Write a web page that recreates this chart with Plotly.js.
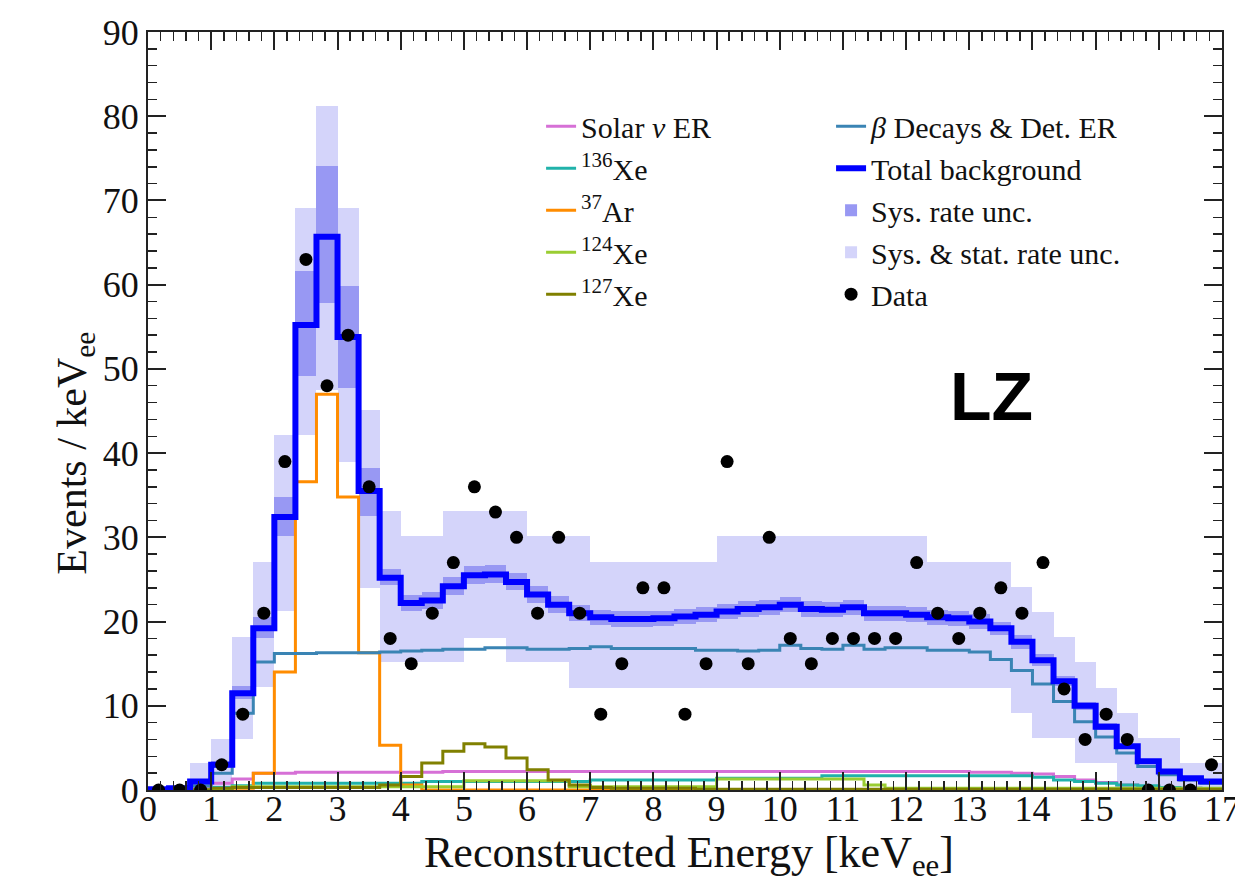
<!DOCTYPE html>
<html><head><meta charset="utf-8">
<script src="https://cdn.plot.ly/plotly-3.0.1.min.js"></script>
<style>html,body{margin:0;padding:0;background:#fff}</style>
</head><body><div id="chart" style="width:1235px;height:888px"></div>
<script>
// 51 bins of equal width spanning 0..17 keV_ee
const eMin = 0, eMax = 17, nBins = 51;

const dataPts = [0,0,0,3,9,21,39,63,48,54,36,18,15,21,27,36,33,30,21,30,21,9,15,24,24,9,15,39,15,30,18,15,18,18,18,18,27,21,18,21,24,21,27,12,6,9,6,0,0,0,3];

const totalBkg = [0.1,0.2,1.0,3.0,11.5,19.2,32.4,55.2,65.7,53.8,35.5,25.2,22.2,22.5,24.2,25.5,25.6,24.7,23.2,22.0,21.0,20.5,20.3,20.3,20.4,20.6,20.8,21.2,21.5,21.7,22.0,21.5,21.4,21.7,21.0,21.0,20.8,20.5,20.4,20.0,19.2,17.6,15.4,12.9,10.0,7.5,5.2,3.4,2.2,1.4,1.0];

const betaDet = [0,0,0.5,2.0,9.1,15.2,16.2,16.2,16.3,16.3,16.3,16.4,16.5,16.6,16.7,16.7,16.9,16.9,16.7,16.7,16.8,17.0,16.8,16.8,16.8,16.8,16.6,16.6,16.5,16.6,17.2,16.8,16.7,17.2,16.7,16.9,16.9,16.6,16.6,16.4,15.5,14.2,12.6,10.5,8.1,6.3,4.4,2.8,1.8,1.2,0.8];

const ar37 = [0,0,0,0,0.2,2.0,14.0,36.6,47.0,34.8,16.3,5.3,0.6,0,0,0,0,0,0,0,0,0,0,0,0,0,0,0,0,0,0,0,0,0,0,0,0,0,0,0,0,0,0,0,0,0,0,0,0,0,0];

const xe127 = [0,0,0,0.2,0.3,0.3,0.3,0.3,0.3,0.3,0.3,0.6,1.6,3.2,4.6,5.5,5.1,3.8,2.4,1.2,0.6,0.3,0.2,0.2,0.2,0.2,0.1,0.1,0.1,0.1,0.1,0.1,0.1,0.1,0.1,0.1,0.1,0.1,0.1,0.1,0.1,0.1,0.1,0.1,0.1,0.1,0.1,0.1,0.1,0.1,0.1];

const solarNu = [0,0,0.3,0.8,1.3,2.0,2.0,2.1,2.1,2.1,2.1,2.1,2.1,2.1,2.2,2.2,2.2,2.2,2.2,2.2,2.2,2.2,2.2,2.2,2.2,2.2,2.2,2.2,2.2,2.2,2.2,2.2,2.2,2.2,2.2,2.2,2.2,2.2,2.2,2.1,2.1,2.0,1.9,1.6,1.2,0.9,0.6,0.4,0.3,0.2,0.1];

const xe136 = [0.1,0.1,0.1,0.3,0.5,0.8,0.8,0.8,0.8,0.8,0.8,0.8,0.8,1.0,1.0,1.0,1.0,1.0,1.0,1.0,1.0,1.2,1.2,1.2,1.2,1.2,1.2,1.4,1.4,1.4,1.4,1.4,1.7,1.7,1.7,1.7,1.7,1.7,1.7,1.7,1.7,1.7,1.5,1.2,1.0,0.8,0.6,0.5,0.3,0.2,0.1];

const xe124 = [0,0,0,0,0.4,0.4,0.4,0.4,0.4,0.4,0.4,0.4,0.4,0.4,0.4,1.1,1.1,1.1,1.1,1.1,0.4,0.4,0.4,0.4,0.4,0.4,0.4,1.3,1.3,1.3,1.3,1.3,1.3,1.3,0.6,0.2,0.2,0.2,0.2,0.2,0.2,0.2,0.2,0.2,0.2,0.2,0.2,0.2,0.2,0.2,0.2];

const sysLo = [0,0,0.8,2.6,10.8,18.0,30.1,49.1,57.8,47.7,32.5,24.3,21.3,21.5,23.2,24.5,24.6,23.7,22.2,21.0,20.1,19.6,19.4,19.4,19.5,19.7,19.9,20.3,20.6,20.8,21.1,20.6,20.5,20.8,20.1,20.1,19.9,19.6,19.5,19.1,18.4,16.8,14.7,12.3,9.5,7.1,4.9,3.2,2.1,1.3,0.9];
const sysHi = [0,0,1.2,3.4,12.3,20.5,34.8,61.6,74.1,59.8,38.2,26.3,23.2,23.5,25.3,26.6,26.7,25.8,24.2,23.0,22.0,21.4,21.2,21.2,21.3,21.5,21.7,22.1,22.4,22.6,22.9,22.4,22.3,22.6,21.9,21.9,21.7,21.4,21.3,20.9,20.0,18.4,16.1,13.5,10.5,7.9,5.5,3.6,2.3,1.5,1.1];

const statLo = [0,0,0,0,6.1,12.2,21.2,42.2,47.5,39.0,24.0,15.2,15.2,15.2,15.2,18.1,18.1,15.2,15.2,15.2,12.1,12.1,12.1,12.1,12.1,12.1,12.1,12.1,12.1,12.1,12.1,12.1,12.1,12.1,12.1,12.1,12.1,12.1,12.1,12.1,12.1,9.1,6.2,6.2,3.2,3.2,0,0,0,0,0];
const statHi = [0,0,3.2,6.1,18.2,27.1,42.2,69.1,81.2,69.1,45.1,33.1,30.1,30.1,33.1,33.1,33.1,33.1,30.1,30.1,30.1,27.1,27.1,27.1,27.1,27.1,27.1,30.1,30.1,30.1,30.1,30.1,30.1,30.1,30.1,30.1,30.1,27.1,27.1,27.1,27.1,24.1,21.1,18.2,15.2,12.1,9.1,6.2,6.2,3.2,3.2];

const xTicks = [0,1,2,3,4,5,6,7,8,9,10,11,12,13,14,15,16,17];
const yTicks = [0,10,20,30,40,50,60,70,80,90];

// bin geometry
const w = (eMax - eMin) / nBins;
const centers = [], edges = [];
for (let i = 0; i <= nBins; i++) edges.push(eMin + i * w);
for (let i = 0; i < nBins; i++) centers.push(eMin + (i + 0.5) * w);

function step(vals) {
  return { x: edges.slice(), y: vals.concat([vals[vals.length - 1]]) };
}
function diff(a, b) { return a.map((v, i) => v - b[i]); }

const serif = 'Liberation Serif, Times New Roman, serif';
const traces = [];

traces.push({
  type: 'bar', x: centers, base: statLo, y: diff(statHi, statLo), width: w,
  marker: { color: 'rgb(212,212,250)', line: { width: 0 } },
  name: 'Sys. &amp; stat. rate unc.', legend: 'legend2', legendrank: 4, hoverinfo: 'skip'
});
traces.push({
  type: 'bar', x: centers, base: sysLo, y: diff(sysHi, sysLo), width: w,
  marker: { color: 'rgb(152,152,243)', line: { width: 0 } },
  name: 'Sys. rate unc.', legend: 'legend2', legendrank: 3, hoverinfo: 'skip'
});

const comps = [
  { v: solarNu, name: 'Solar <i>ν</i> ER', color: '#d670d6', r: 1 },
  { v: xe136, name: '<sup>136</sup>Xe', color: '#20b2aa', r: 2 },
  { v: ar37, name: '<sup>37</sup>Ar', color: '#ff8c00', r: 3 },
  { v: xe124, name: '<sup>124</sup>Xe', color: '#9acd32', r: 4 },
  { v: xe127, name: '<sup>127</sup>Xe', color: '#808000', r: 5 }
];
comps.forEach(c => {
  const s = step(c.v);
  traces.push({
    type: 'scatter', mode: 'lines', x: s.x, y: s.y, line: { shape: 'hv', color: c.color, width: 3 },
    name: c.name, legend: 'legend', legendrank: c.r
  });
});

const sb = step(betaDet);
traces.push({
  type: 'scatter', mode: 'lines', x: sb.x, y: sb.y, line: { shape: 'hv', color: '#3a84b4', width: 3 },
  name: '<i>β</i> Decays &amp; Det. ER', legend: 'legend2', legendrank: 1
});
const st = step(totalBkg);
traces.push({
  type: 'scatter', mode: 'lines', x: st.x, y: st.y, line: { shape: 'hv', color: '#0000ff', width: 6 },
  name: 'Total background', legend: 'legend2', legendrank: 2
});
traces.push({
  type: 'scatter', mode: 'markers', x: centers, y: dataPts,
  marker: { color: '#000', size: 13 },
  name: 'Data', legend: 'legend2', legendrank: 5
});

const axisCommon = {
  showline: true, linecolor: '#222', linewidth: 2, mirror: 'allticks',
  ticks: 'inside', ticklen: 18, tickwidth: 2, tickcolor: '#222',
  showgrid: false, zeroline: false, ticklabeloverflow: 'allow',
  tickfont: { family: serif, size: 36, color: '#111' }
};

const layout = {
  width: 1235, height: 888,
  margin: { l: 148, r: 13, t: 32, b: 98 },
  paper_bgcolor: '#fff', plot_bgcolor: '#fff',
  barmode: 'overlay', bargap: 0,
  xaxis: Object.assign({}, axisCommon, {
    range: [eMin, eMax], tickvals: xTicks, ticktext: xTicks.map(String),
    ticklabelstandoff: -14,
    minor: { dtick: 0.2, ticks: 'inside', ticklen: 9, tickwidth: 1.5, tickcolor: '#222' },
    title: { text: '' }
  }),
  yaxis: Object.assign({}, axisCommon, {
    range: [0, 90], tickvals: yTicks, ticktext: yTicks.map(String),
    minor: { dtick: 2, ticks: 'inside', ticklen: 9, tickwidth: 1.5, tickcolor: '#222' },
    title: { text: '' }
  }),
  legend: {
    x: 0.366, y: 0.91, xanchor: 'left', yanchor: 'top', bgcolor: 'rgba(0,0,0,0)',
    font: { family: serif, size: 30, color: '#111' }, traceorder: 'normal', tracegroupgap: 0
  },
  legend2: {
    x: 0.636, y: 0.91, xanchor: 'left', yanchor: 'top', bgcolor: 'rgba(0,0,0,0)',
    font: { family: serif, size: 30, color: '#111' }, traceorder: 'normal', tracegroupgap: 0
  },
  annotations: [{
    xref: 'paper', yref: 'paper', x: 0.785, y: 0.52, xanchor: 'center', yanchor: 'middle',
    text: '<b>LZ</b>', showarrow: false,
    font: { family: 'Liberation Sans, Arial, sans-serif', size: 68, color: '#000' }
  }, {
    xref: 'paper', yref: 'paper', x: -0.068, y: 0.445, xanchor: 'center', yanchor: 'middle',
    text: 'Events / keV<sub>ee</sub>', textangle: -90, showarrow: false,
    font: { family: serif, size: 42, color: '#111' }
  }, {
    xref: 'paper', yref: 'paper', x: 0.504, y: -0.086, xanchor: 'center', yanchor: 'middle',
    text: 'Reconstructed Energy [keV<sub>ee</sub>]', showarrow: false,
    font: { family: serif, size: 44, color: '#111' }
  }]
};

Plotly.newPlot('chart', traces, layout, { displayModeBar: false, staticPlot: true });
</script></body></html>
